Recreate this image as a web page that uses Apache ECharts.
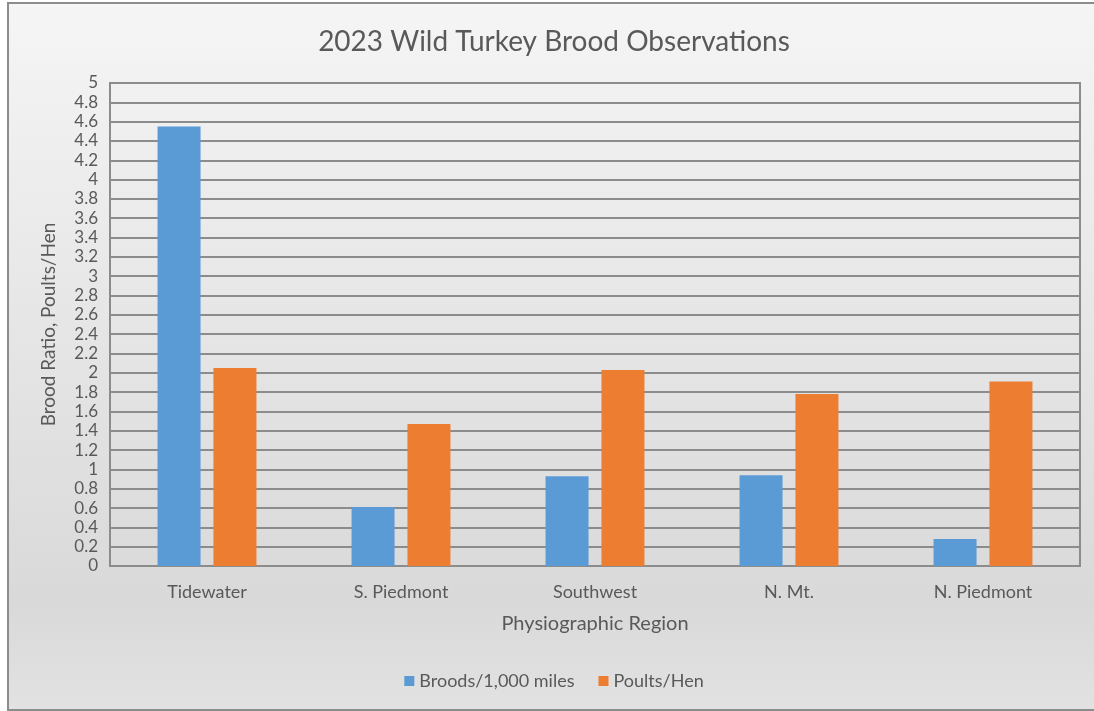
<!DOCTYPE html>
<html>
<head>
<meta charset="utf-8">
<script src="https://cdn.jsdelivr.net/npm/echarts@6/dist/echarts.min.js"></script>
<style>
  html, body { margin: 0; padding: 0; background: #ffffff; overflow: hidden; }
  #chart {
    position: absolute; left: 7px; top: 2px; width: 1090px; height: 705px;
    border-left: 2px solid #8c8c8c; border-top: 2px solid #8c8c8c; border-bottom: 2px solid #8c8c8c;
  }
</style>
</head>
<body>
<div id="chart"></div>
<script>
// regions along the x axis
var regions = ['Tidewater', 'S. Piedmont', 'Southwest', 'N. Mt.', 'N. Piedmont'];
// broods per 1,000 miles
var broods = [4.55, 0.61, 0.93, 0.94, 0.28];
// poults per hen
var poults = [2.05, 1.47, 2.03, 1.78, 1.91];

var font = 'Lato, "Open Sans", sans-serif';
var grey = '#595959';

var chart = echarts.init(document.getElementById('chart'));
var opt = {
    backgroundColor: new echarts.graphic.LinearGradient(0, 0, 0, 1, [
        { offset: 0, color: '#f5f5f5' },
        { offset: 0.85, color: '#d9d9d9' },
        { offset: 1, color: '#e2e2e2' }
    ]),
    title: {
        text: '2023 Wild Turkey Brood Observations',
        left: 'center', top: 19,
        textStyle: { fontFamily: font, fontSize: 28, fontWeight: 'normal', color: grey }
    },
    legend: {
        bottom: 14, left: 'center',
        itemWidth: 10, itemHeight: 10, itemGap: 24,
        icon: 'rect',
        textStyle: { fontFamily: font, fontSize: 18, color: grey }
    },
    grid: { left: 101, top: 79, width: 970, height: 483, show: true, borderColor: '#8c8c8c', borderWidth: 2 },
    xAxis: {
        type: 'category', data: regions,
        name: 'Physiographic Region', nameLocation: 'middle', nameGap: 48,
        nameTextStyle: { fontFamily: font, fontSize: 20, color: grey },
        axisLine: { lineStyle: { color: '#8c8c8c', width: 2 } },
        axisTick: { show: false },
        axisLabel: { fontFamily: font, fontSize: 18, color: grey, margin: 17 }
    },
    yAxis: {
        type: 'value', min: 0, max: 5, interval: 0.2,
        name: 'Brood Ratio, Poults/Hen', nameLocation: 'middle', nameGap: 52,
        nameTextStyle: { fontFamily: font, fontSize: 19, color: grey },
        axisLine: { show: false },
        axisLabel: { fontFamily: font, fontSize: 17, color: grey, margin: 12,
            formatter: function (v) { return String(+v.toFixed(1)); } },
        splitLine: { lineStyle: { color: '#8c8c8c', width: 2 } }
    },
    series: [
        { name: 'Broods/1,000 miles', type: 'bar', data: broods, barWidth: 43, barGap: '30%',
          itemStyle: { color: '#5b9bd5' } },
        { name: 'Poults/Hen', type: 'bar', data: poults, barWidth: 43,
          itemStyle: { color: '#ed7d31' } }
    ]
};
chart.setOption(opt);
</script>
</body>
</html>
